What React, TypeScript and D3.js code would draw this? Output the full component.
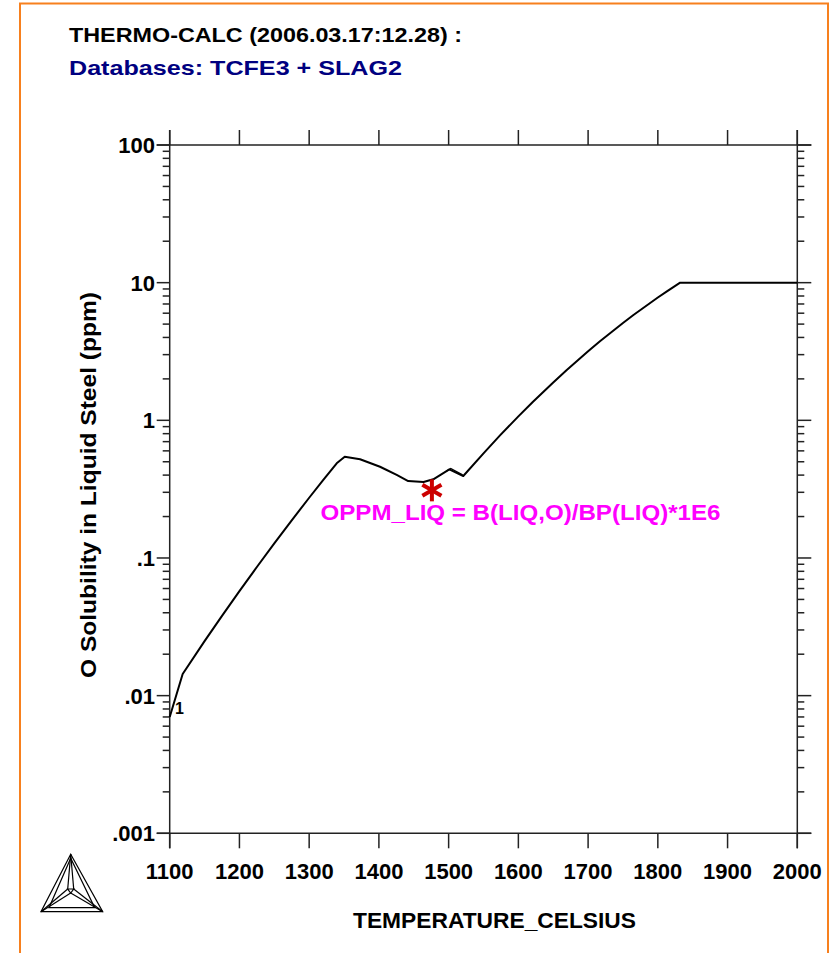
import React from "react";
import * as d3 from "d3";

const temps = [1100, 1118.6, 1150, 1175, 1200, 1225, 1250, 1275, 1300, 1320, 1339.5, 1351, 1373, 1401.6, 1425.5, 1442, 1464, 1478, 1501, 1521, 1550, 1574, 1600, 1621, 1650, 1669, 1700, 1717, 1750, 1765, 1800, 1813, 1832, 2000];
const oppm = [0.007, 0.01436, 0.0249, 0.038, 0.0575, 0.086, 0.1277, 0.1878, 0.2739, 0.3679, 0.4875, 0.544, 0.521, 0.46, 0.401, 0.362, 0.356, 0.373, 0.44, 0.394, 0.576, 0.78, 1.068, 1.365, 1.885, 2.312, 3.173, 3.75, 5.095, 5.82, 7.796, 8.65, 10.0, 10.0];
// small doubled segment near 1500 C
const tempsB = [1497, 1503, 1520];
const oppmB = [0.428, 0.447, 0.402];

const xTicks = [1100, 1200, 1300, 1400, 1500, 1600, 1700, 1800, 1900, 2000];
const yMajor = [0.001, 0.01, 0.1, 1, 10, 100];
const yMajorLabels = [".001", ".01", ".1", "1", "10", "100"];
const markerPoint = { t: 1476, v: 0.31 };

const FONT = "'Liberation Sans', Arial, sans-serif";

export default function App() {
  const x = d3.scaleLinear().domain([1100, 2000]).range([169.7, 797.3]);
  const y = d3.scaleLog().domain([0.001, 100]).range([833.3, 145]);
  const line = d3
    .line<number>()
    .x((_, i) => x(temps[i]))
    .y((d) => y(d));
  const lineB = d3
    .line<number>()
    .x((_, i) => x(tempsB[i]))
    .y((d) => y(d));

  const yMinor: number[] = [];
  for (let e = -3; e < 2; e++) {
    for (let k = 2; k <= 9; k++) yMinor.push(k * Math.pow(10, e));
  }

  const x0 = x(1100), x1 = x(2000), y0 = y(0.001), y1 = y(100);
  const axisColor = "#222";

  const mx = x(markerPoint.t), my = y(markerPoint.v);
  const star = [0, 60, 120].map((a) => {
    const r = (a * Math.PI) / 180;
    return { dx: Math.sin(r) * 11, dy: Math.cos(r) * 11 };
  });

  // logo
  const A = [70.7, 854.3], B = [41, 911.7], C = [102.7, 911.7], G = [70.7, 890];

  return (
    <svg width={834} height={953} style={{ position: "absolute", left: 0, top: 0, background: "#fff" }} fontFamily={FONT}>
      <rect x={20} y={3.5} width={808} height={1000} fill="none" stroke="#F7801E" strokeWidth={2} />

      <text x={69} y={42} fontSize={21} fontWeight="bold" fill="#000" textLength={393} lengthAdjust="spacingAndGlyphs">THERMO-CALC (2006.03.17:12.28) :</text>
      <text x={69} y={75} fontSize={21} fontWeight="bold" fill="#000080" textLength={333} lengthAdjust="spacingAndGlyphs">Databases: TCFE3 + SLAG2</text>

      {/* frame */}
      <g stroke={axisColor} strokeWidth={1.5}>
        <line x1={x0 - 13} x2={x1 + 14} y1={y1} y2={y1} />
        <line x1={x0 - 13} x2={x1 + 14} y1={y0} y2={y0} />
        <line x1={x0} x2={x0} y1={y1 - 15} y2={y0 + 15} />
        <line x1={x1} x2={x1} y1={y1 - 15} y2={y0 + 15} />
        {xTicks.map((t) => (
          <g key={t}>
            <line x1={x(t)} x2={x(t)} y1={y1 - 15} y2={y1} />
            <line x1={x(t)} x2={x(t)} y1={y0} y2={y0 + 15} />
          </g>
        ))}
        {yMajor.map((v) => (
          <g key={v}>
            <line x1={x0 - 13} x2={x0} y1={y(v)} y2={y(v)} />
            <line x1={x1} x2={x1 + 14} y1={y(v)} y2={y(v)} />
          </g>
        ))}
        {yMinor.map((v) => (
          <g key={v}>
            <line x1={x0 - 7} x2={x0} y1={y(v)} y2={y(v)} />
            <line x1={x1} x2={x1 + 7} y1={y(v)} y2={y(v)} />
          </g>
        ))}
      </g>

      {yMajor.map((v, i) => (
        <text key={v} x={155} y={y(v) + 8} fontSize={22} fontWeight="bold" textAnchor="end">{yMajorLabels[i]}</text>
      ))}
      {xTicks.map((t) => (
        <text key={t} x={x(t)} y={879} fontSize={22} fontWeight="bold" textAnchor="middle">{t}</text>
      ))}

      <text x={494.5} y={928} fontSize={22} fontWeight="bold" textAnchor="middle" textLength={283} lengthAdjust="spacingAndGlyphs">TEMPERATURE_CELSIUS</text>
      <text transform="translate(96,485) rotate(-90)" fontSize={22} fontWeight="bold" textAnchor="middle" textLength={386} lengthAdjust="spacingAndGlyphs">O Solubility in Liquid Steel (ppm)</text>

      {/* curve */}
      <path d={line(oppm) ?? ""} fill="none" stroke="#000" strokeWidth={2} strokeLinejoin="round" />
      <path d={lineB(oppmB) ?? ""} fill="none" stroke="#000" strokeWidth={1.3} />
      <text x={175} y={714} fontSize={16} fontWeight="bold">1</text>

      {/* marker */}
      <g stroke="#CC0000" strokeWidth={4} strokeLinecap="butt">
        {star.map((s, i) => (
          <line key={i} x1={mx - s.dx} y1={my - s.dy} x2={mx + s.dx} y2={my + s.dy} />
        ))}
      </g>
      <text x={320.5} y={520} fontSize={22} fontWeight="bold" fill="#FF00FF" textLength={400} lengthAdjust="spacingAndGlyphs">OPPM_LIQ = B(LIQ,O)/BP(LIQ)*1E6</text>

      {/* logo */}
      <g stroke="#000" strokeWidth={1.2} fill="none">
        <polygon points={[A, B, C].map((p) => p.join(",")).join(" ")} />
        <polygon points={`${A[0]},${A[1] + 4} ${B[0] + 8},${B[1] - 4} ${C[0] - 8},${C[1] - 4}`} />
        <polygon points={`${G[0] - 3},${G[1] - 1} ${G[0] + 3},${G[1] - 1} ${G[0]},${G[1] + 3}`} />
        <line x1={A[0]} y1={A[1]} x2={G[0] - 3} y2={G[1] - 1} />
        <line x1={A[0]} y1={A[1]} x2={G[0] + 3} y2={G[1] - 1} />
        <line x1={B[0]} y1={B[1]} x2={G[0] - 3} y2={G[1] - 1} />
        <line x1={B[0]} y1={B[1]} x2={G[0]} y2={G[1] + 3} />
        <line x1={C[0]} y1={C[1]} x2={G[0] + 3} y2={G[1] - 1} />
        <line x1={C[0]} y1={C[1]} x2={G[0]} y2={G[1] + 3} />
      </g>
    </svg>
  );
}
